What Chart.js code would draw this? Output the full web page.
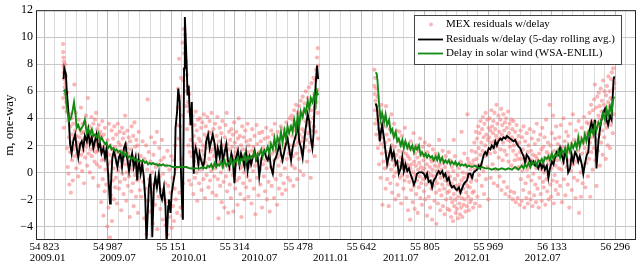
<!DOCTYPE html>
<html>
<head>
<meta charset="utf-8">
<script src="https://cdn.jsdelivr.net/npm/chart.js@4.4.1/dist/chart.umd.min.js"></script>
<style>
  html, body { margin: 0; padding: 0; background: #fff; }
  canvas { display: block; }
</style>
</head>
<body>
<canvas id="chart" width="640" height="268"></canvas>
<script>
// axis ticks (MJD) and labels
var mjdTicks = [54823.4, 54987.1, 55150.7, 55314.4, 55478.1, 55641.8, 55805.4, 55969.1, 56132.8, 56296.4];
var mjdLabels = ['54\u2009823', '54\u2009987', '55\u2009151', '55\u2009314', '55\u2009478', '55\u2009642', '55\u2009805', '55\u2009969', '56\u2009133', '56\u2009296'];
var dateTicks = [54832, 55013, 55197, 55378, 55562, 55743, 55927, 56109];
var dateLabels = ['2009.01', '2009.07', '2010.01', '2010.07', '2011.01', '2011.07', '2012.01', '2012.07'];
var yTicks = [-4, -2, 0, 2, 4, 6, 8, 10, 12];

// MEX residuals w/delay, [MJD, m]
var mexLeft = [
  [54872,9.5],[54872,8.9],[54872,5.5],[54873,8.5],[54873,7.9],[54873,4.8],[54874,8.2],[54874,7.4],[54874,3.3],[54875,7.7],
  [54875,6.9],[54876,7.3],[54876,6.3],[54877,8.0],[54877,5.8],[54878,6.6],[54879,7.1],[54880,5.2],[54881,4.5],[54882,1.8],
  [54883,5.9],[54884,0.4],[54885,3.8],[54886,-0.1],[54887,2.6],[54888,-0.9],[54889,4.3],[54890,1.5],
  [54891,3.4],[54892,-1.5],[54893,2.2],[54894,4.0],[54895,0.9],[54896,2.8],[54897,-0.6],[54898,3.6],[54899,1.7],[54900,2.5],
  [54901,6.5],[54902,1.2],[54903,3.1],[54904,2.0],[54905,4.4],[54906,0.3],[54907,2.7],[54908,1.4],[54909,3.5],[54910,2.2],
  [54911,-0.3],[54912,3.9],[54913,1.8],[54914,2.6],[54915,0.7],[54916,3.2],[54917,2.0],[54918,4.8],[54919,1.3],[54920,2.9],
  [54921,0.1],[54922,3.6],[54923,2.4],[54924,1.6],[54925,3.0],[54926,-0.8],[54927,2.1],[54928,3.7],[54929,1.1],[54930,2.6],
  [54931,4.2],[54932,1.9],[54933,3.3],[54934,0.5],[54935,2.8],[54936,5.5],[54937,2.2],[54938,1.4],[54939,3.4],[54940,2.6],
  [54941,0.0],[54942,3.1],[54943,1.7],[54944,2.5],[54945,4.1],[54946,1.2],[54947,3.0],[54948,2.1],[54949,-0.4],[54950,3.6],
  [54951,1.8],[54952,2.7],[54953,0.8],[54954,3.9],[54955,2.3],[54956,1.5],[54957,4.4],[54958,2.0],[54959,0.6],[54960,3.2],
  [54961,1.6],[54962,2.4],[54963,-1.0],[54964,3.5],[54965,1.9],[54966,2.8],
  [54967,0.4],[54968,3.0],[54969,1.6],[54970,-2.2],[54971,2.6],[54972,0.9],[54973,3.8],[54974,-0.5],[54975,1.9],[54976,-3.2],
  [54977,2.8],[54978,1.0],[54979,-1.4],[54980,3.3],[54981,0.2],[54982,2.1],[54983,-0.9],[54985,1.5],[54986,-4.0],[54987,2.4],
  [54988,0.6],[54989,-2.6],[54990,3.6],[54991,-0.2],[54992,1.3],[54993,-4.8],[54994,2.0],[54995,-1.7],[54996,0.8],[54997,3.1],
  [54998,-3.6],[54999,1.7],[55000,-0.6],[55001,2.5],[55002,0.3],[55003,-2.0],[55004,3.4],[55005,1.2],[55006,-1.1],
  [55007,1.9],[55008,-0.4],[55009,2.8],[55010,0.7],[55011,-2.3],[55012,1.5],[55013,3.6],[55014,0.1],[55015,2.2],[55016,-1.2],
  [55017,1.1],[55018,3.0],[55019,-0.7],[55020,2.0],[55021,0.4],[55022,-2.8],[55023,1.6],[55024,3.3],[55025,-0.1],[55026,2.5],
  [55027,0.9],[55028,-1.6],[55029,2.9],[55030,1.3],[55031,-0.5],[55032,4.2],[55033,0.6],[55034,2.1],[55035,-2.1],[55036,1.8],
  [55037,0.0],[55038,3.1],[55039,-1.0],[55040,1.4],[55041,2.6],[55042,-0.3],[55043,0.8],[55044,-3.3],[55045,2.3],[55046,0.5],
  [55047,1.7],[55048,-1.4],[55049,3.4],[55050,0.2],[55051,1.2],[55052,-0.8],[55053,2.7],[55054,-2.5],[55055,1.0],[55056,3.7],
  [55057,-0.2],[55058,1.9],[55059,0.4],[55060,-1.8],[55061,2.4],[55062,0.9],[55063,-0.6],[55064,2.0],[55065,-3.0],[55066,1.3],
  [55067,3.0],[55068,-0.4],[55069,0.7],[55070,-1.3],
  [55072,1.2],[55074,-1.8],[55076,0.5],[55077,2.3],[55079,-0.7],[55081,-3.4],[55082,1.0],[55084,-1.2],[55086,2.0],[55087,-4.6],
  [55089,0.2],[55090,5.4],[55091,-2.1],[55093,1.5],[55094,-0.5],[55096,-2.9],[55097,0.8],[55099,2.6],[55100,-1.5],[55102,0.0],
  [55103,-3.8],[55105,1.3],[55106,-0.9],[55108,2.2],[55109,-2.4],[55111,0.4],[55112,-1.1],[55114,3.0],[55115,-4.2],[55117,0.6],
  [55118,-1.8],[55120,1.8],[55121,-0.3],[55123,-2.7],[55124,0.9],[55126,-1.3],[55127,2.4],[55129,-3.5],[55130,-0.1],[55132,1.1],
  [55133,-2.0],[55135,-0.8],[55136,-3.9],[55138,0.5],[55139,-2.2],[55141,1.6],[55142,-4.6],[55143,-1.0],[55145,-2.8],[55146,0.2],
  [55148,-3.3],[55149,-1.5],[55151,1.2],[55152,-4.1],[55154,-0.4],[55155,-2.5],[55157,0.9],[55158,-3.6],[55160,-1.2],[55161,2.0],
  [55163,-2.0],[55164,0.3],[55166,-3.0],[55167,3.5],
  [55168,4.8],[55169,6.2],[55170,2.5],[55171,8.4],[55172,-1.5],[55173,5.6],[55174,3.4],[55175,-2.6],[55176,7.0],[55177,1.0],
  [55178,-3.2],[55179,4.2],[55180,9.6],[55181,-0.8],[55182,6.8],[55183,10.6],[55184,8.8],[55185,7.6],[55186,10.2],[55187,9.2],
  [55188,6.0],[55189,8.2],[55190,4.9],[55191,7.2],[55192,3.2],[55193,6.4],[55194,5.2],[55195,2.0],[55196,4.5],[55197,-0.6],
  [55198,5.8],[55199,1.5],[55200,3.6],
  [55201,2.4],[55202,-0.9],[55203,3.8],[55204,1.2],[55205,0.3],[55206,4.2],[55207,1.9],[55208,-1.6],[55209,2.7],[55210,0.8],
  [55211,3.5],[55212,-0.4],[55213,2.1],[55214,4.5],[55215,1.4],[55216,0.0],[55217,3.1],[55218,-2.1],[55219,1.7],[55220,3.9],
  [55221,0.6],[55222,2.5],[55223,-0.8],[55224,1.1],[55225,4.0],[55226,2.3],[55227,0.2],[55228,3.3],[55229,-1.3],[55230,1.6],
  [55231,3.7],[55232,0.9],[55233,2.0],[55234,-0.5],[55235,4.3],[55236,1.3],[55237,2.8],[55238,-1.9],[55239,0.7],[55240,3.4],
  [55241,1.8],[55242,-0.2],[55243,2.6],[55244,4.1],[55245,0.4],[55246,2.2],[55247,-1.1],[55248,3.0],[55249,1.0],[55250,3.8],
  [55251,-0.6],[55252,1.5],[55253,2.9],[55254,0.1],[55255,4.4],[55256,1.7],[55257,-1.5],[55258,2.4],[55259,0.5],[55260,3.2],
  [55261,1.2],[55262,-0.3],[55263,2.0],
  [55264,3.6],[55265,0.3],[55266,1.8],[55267,-1.7],[55268,2.7],[55269,0.8],[55270,4.1],[55271,-0.5],[55272,1.4],[55273,-3.4],
  [55274,2.3],[55275,0.6],[55276,3.3],[55277,-1.0],[55278,1.9],[55279,0.0],[55280,2.9],[55281,-2.2],[55282,1.1],[55283,3.8],
  [55284,0.4],[55285,2.0],[55286,-0.7],[55287,1.6],[55288,-2.6],[55289,2.6],[55290,0.9],[55291,3.5],[55292,-0.3],[55293,1.3],
  [55294,4.4],[55295,-1.4],[55296,2.1],[55297,0.5],[55298,-3.0],[55299,1.7],[55300,3.0],[55301,0.2],[55302,-0.9],[55303,2.4],
  [55304,1.0],[55305,-1.9],[55306,3.2],[55307,0.7],[55308,1.9],[55309,-0.2],[55310,2.8],[55311,-2.9],[55312,1.2],[55313,3.7],
  [55314,0.1],[55315,2.2],[55316,-1.2],[55317,1.5],[55318,0.6],[55319,3.0],[55320,-0.6],[55321,1.8],[55322,-2.4],[55323,2.5],
  [55324,0.8],[55325,4.0],[55326,-0.4],[55327,1.4],[55328,2.7],[55329,-1.6],[55330,0.3],[55331,2.0],[55332,-3.3],[55333,1.1],
  [55334,3.4],[55335,0.5],[55336,1.7],[55337,-0.8],[55338,2.6],[55339,0.0],[55340,-2.0],[55341,1.3],[55342,3.1],[55343,0.6],
  [55344,-1.1],[55345,2.3],[55346,0.9],[55347,-0.3],[55348,3.6],[55349,1.5],[55350,-1.8],[55351,2.0],[55352,0.4],[55353,1.2],
  [55354,-0.6],[55355,2.4],[55357,0.7],[55358,-2.3],[55359,1.6],[55360,3.2],[55362,0.1],[55363,1.9],[55364,-1.2],[55366,2.7],
  [55367,0.5],[55368,-3.1],[55369,1.3],[55371,3.5],[55372,-0.4],[55373,2.1],[55374,0.8],[55376,-1.7],[55377,1.5],[55378,2.9],
  [55380,0.2],[55381,-0.9],[55382,2.3],[55384,1.0],[55385,-2.6],[55386,3.0],[55388,0.6],[55389,1.8],[55390,-0.3],[55392,2.5],
  [55393,-1.4],[55394,0.9],[55396,3.3],[55397,0.3],[55398,-2.0],[55400,1.7],[55401,2.6],[55402,-0.7],[55404,1.2],[55405,-2.9],
  [55406,2.2],[55408,0.4],[55409,3.1],[55410,-1.0],[55412,1.4],[55413,0.0],[55414,2.8],[55416,-1.9],[55417,0.9],[55418,3.6],
  [55420,1.6],[55421,-0.5],[55422,2.4],[55424,-2.4],[55425,1.1],[55426,3.0],[55428,0.5],[55429,-1.2],[55430,2.0],[55432,1.3],
  [55433,-0.2],[55434,3.4],[55436,0.8],[55437,-1.6],[55438,2.6],[55440,1.8],[55441,-0.8],[55442,3.2],[55444,0.3],[55445,2.1],
  [55446,-1.3],[55448,3.7],[55449,1.0],[55450,2.5],[55452,-0.4],[55453,3.0],[55454,1.4],[55456,4.0],
  [55457,2.0],[55458,-0.6],[55459,3.4],[55460,1.6],[55461,4.2],[55462,0.5],[55463,2.7],[55464,3.9],[55465,1.2],[55466,-1.0],
  [55467,3.1],[55468,4.6],[55469,2.0],[55470,0.3],[55471,3.7],[55472,2.5],[55473,5.0],[55474,1.4],[55475,3.3],[55476,-0.5],
  [55477,4.4],[55478,2.2],[55479,3.6],[55480,1.0],[55481,4.9],[55482,2.8],[55483,0.1],[55484,3.9],[55485,5.3],[55486,2.3],
  [55487,4.1],[55488,1.5],[55489,3.2],[55490,5.6],[55491,2.6],[55492,-0.2],[55493,4.5],[55494,3.0],[55495,5.1],[55496,1.9],
  [55497,3.8],[55498,6.0],[55499,2.4],[55500,4.7],[55501,0.8],[55502,3.5],[55503,5.5],[55504,2.9],[55505,4.2],[55506,6.3],
  [55507,1.6],[55508,3.7],[55509,5.0],[55510,2.2],[55511,-0.4],[55512,4.6],[55513,6.6],[55514,3.1],[55515,5.3],[55516,2.0],
  [55517,4.0],[55518,7.0],[55519,3.4],[55520,5.8],[55521,1.2],[55522,4.8],[55523,6.8],[55524,3.0],[55525,7.6],[55526,5.2],
  [55527,8.5],[55528,6.1],[55529,9.2],[55529,4.4],[55530,7.9],[55530,2.5]
];
var mexRight = [
  [55675,7.6],[55675,6.4],[55676,5.8],[55676,4.6],[55677,7.0],[55677,3.6],[55678,5.3],[55679,6.2],[55680,2.8],[55681,4.9],
  [55682,3.9],[55683,5.6],[55684,1.8],[55685,4.2],[55686,3.2],[55687,0.6],[55688,4.5],[55689,2.5],[55690,3.6],[55691,-0.4],
  [55692,2.1],[55693,5.0],[55694,1.4],[55695,3.0],[55696,-2.4],[55697,2.6],[55698,0.8],[55699,4.1],[55700,1.9],
  [55701,3.4],[55702,0.3],[55703,2.2],[55704,-1.2],[55705,4.9],[55706,1.5],[55707,2.8],[55708,-0.5],[55709,1.0],[55710,3.7],
  [55711,0.6],[55712,-2.5],[55713,2.4],[55714,1.2],[55715,3.2],[55716,-0.8],[55717,1.8],[55718,0.2],[55719,4.3],[55720,2.0],
  [55721,-1.5],[55722,0.9],[55723,2.9],[55724,1.4],[55725,-0.3],[55726,3.6],[55727,0.5],[55728,1.9],[55729,-2.0],[55730,2.6],
  [55731,0.0],[55732,1.3],[55733,3.1],[55734,-0.9],[55735,0.8],[55736,2.3],[55737,-1.7],[55738,1.6],[55739,0.4],[55740,3.0],
  [55741,-0.4],[55742,1.1],[55743,2.0],[55744,-2.3],[55745,0.7],[55746,2.7],[55747,-0.2],[55748,1.5],[55749,0.3],[55750,-1.2],
  [55751,2.2],[55752,0.9],[55753,-0.6],[55754,3.3],[55755,0.1],[55756,1.4],[55757,-1.9],[55758,0.6],[55759,2.1],[55760,-0.3],
  [55761,1.2],[55762,-2.8],[55763,0.5],[55764,1.8],
  [55765,-0.7],[55766,1.0],[55767,-3.5],[55768,0.3],[55769,2.3],[55770,-1.3],[55771,0.6],[55772,-0.4],[55773,1.7],[55774,-2.2],
  [55775,0.0],[55776,2.9],[55777,-1.0],[55778,0.8],[55779,-2.7],[55780,1.4],[55781,-0.2],[55782,0.5],[55783,-1.6],[55784,2.0],
  [55785,-0.6],[55786,1.1],[55787,-3.0],[55788,0.2],[55789,1.6],[55790,-1.1],[55791,0.7],[55792,-0.3],[55793,2.5],[55794,-1.9],
  [55795,0.4],[55796,-0.8],[55797,1.3],[55798,-2.4],[55799,0.1],[55800,1.9],[55801,-0.5],[55802,0.9],[55803,-1.4],[55804,0.3],
  [55805,2.2],[55806,-2.0],[55807,-0.1],[55808,1.2],[55809,-0.9],[55810,0.6],[55811,-3.2],[55812,1.5],[55813,-0.4],[55814,0.0],
  [55815,-1.8],[55816,2.0],[55817,-0.7],[55818,0.4],[55819,-2.6],[55820,1.0],[55821,-0.2],[55822,-1.2],[55823,0.8],[55824,-3.5],
  [55825,0.2],[55826,1.7],[55827,-1.0],[55828,-0.3],[55829,0.9],[55830,-2.1],[55831,0.5],[55832,-0.6],[55833,1.4],[55834,-1.5],
  [55835,-3.8],[55836,0.1],[55837,-0.8],[55838,1.1],[55839,-2.3],[55840,0.4],[55841,-0.1],[55842,2.4],[55843,-1.3],[55844,0.6],
  [55845,-2.8],[55846,-0.4],[55847,1.0],[55848,-1.7],[55849,0.2],[55850,-0.9],[55851,1.6],[55852,-2.5],[55853,-0.2],[55854,0.7],
  [55855,-1.2],[55856,-3.1],[55857,0.4],[55858,-0.6],[55859,1.2],[55860,-2.0],[55861,-0.3],[55862,0.8],[55863,-1.5],[55864,-2.7],
  [55865,0.0],[55866,-0.9],[55867,1.5],
  [55868,-1.4],[55869,-2.8],[55870,-0.3],[55871,0.9],[55872,-1.9],[55873,-3.3],[55874,-0.8],[55875,0.4],[55876,-2.2],[55877,-1.1],
  [55878,-3.6],[55879,0.1],[55880,-1.6],[55880,2.4],[55881,-2.5],[55882,-0.5],[55883,1.2],[55884,-2.0],[55885,-3.0],[55886,-1.0],
  [55887,0.6],[55888,-2.7],[55889,-1.3],[55890,-0.2],[55891,-3.4],[55892,-1.8],[55893,0.3],[55894,-2.3],[55895,-0.9],[55896,-3.1],
  [55897,-1.5],[55898,0.8],[55899,-2.6],[55900,-0.6],[55900,3.0],[55901,-1.9],[55902,-3.3],[55903,0.0],[55904,-1.2],[55905,-2.4],
  [55906,-0.4],[55907,1.4],[55908,-2.0],[55909,-0.8],[55910,-2.9],[55911,0.5],[55912,-1.5],[55913,-0.1],[55914,-2.5],[55915,-1.0],
  [55915,4.3],[55916,1.0],[55917,-1.8],[55918,-0.3],[55919,-2.8],[55920,0.7],[55921,-1.1],[55922,-2.2],[55923,0.2],[55924,-0.7],
  [55925,-2.0],[55926,1.6],[55927,-0.4],[55928,-1.5],[55929,0.6],[55930,-2.6],
  [55931,0.9],[55932,-1.4],[55933,2.2],[55934,0.2],[55935,-2.3],[55936,1.5],[55937,3.0],[55938,-0.6],[55939,1.0],[55940,2.5],
  [55941,-1.8],[55942,0.5],[55943,3.4],[55944,1.8],[55945,-0.2],[55946,2.9],[55947,-2.5],[55948,1.3],[55949,3.8],[55950,0.6],
  [55951,2.2],[55952,-1.0],[55953,3.2],[55954,1.6],[55955,4.1],[55956,0.1],[55957,2.6],[55958,-1.6],[55959,3.6],[55960,1.2],
  [55961,2.0],[55962,4.4],[55963,-0.5],[55964,2.8],[55965,1.5],[55966,3.9],[55967,0.4],[55968,2.4],[55969,-2.0],[55970,3.3],
  [55971,2.6],[55972,4.0],[55973,1.4],[55974,3.1],[55975,-0.4],[55976,2.2],[55977,4.6],[55978,1.8],[55979,3.4],[55980,0.6],
  [55981,2.9],[55982,3.8],[55983,-0.8],[55984,2.3],[55985,4.4],[55986,1.5],[55987,3.2],[55988,0.2],[55989,2.7],[55990,5.0],
  [55991,1.9],[55992,3.6],[55993,-1.0],[55994,2.4],[55995,4.2],[55996,1.1],[55997,3.0],[55998,-0.3],[55999,2.5],[56000,3.9],
  [56001,1.7],[56002,4.7],[56003,-1.3],[56004,2.8],[56005,3.5],[56006,0.9],[56007,2.2],[56008,4.3],[56009,-0.7],[56010,3.1],
  [56011,1.6],[56012,3.7],[56013,-1.6],[56014,2.6],[56015,4.0],[56016,1.3],[56017,3.3],[56018,-1.1],[56019,2.4],[56020,4.5],
  [56021,0.8],[56022,2.9],[56023,-1.8],[56024,3.6],[56025,1.9],[56026,2.3],[56027,-1.4],[56028,3.9],[56029,0.5],[56030,2.6],
  [56031,3.2],[56032,-2.0],[56033,1.6],[56034,3.8],[56035,2.0],[56036,-1.5],[56037,0.9],[56038,3.0],[56039,2.4],[56040,-2.2],
  [56041,1.3],[56042,3.5],[56043,0.3],[56044,2.1],[56045,-1.9],[56046,1.0],[56047,2.7],
  [56048,0.4],[56049,2.2],[56050,-2.4],[56051,1.5],[56052,3.1],[56053,-0.5],[56054,1.0],[56055,-2.1],[56056,2.6],[56057,0.1],
  [56058,1.7],[56059,-1.3],[56060,3.4],[56061,0.6],[56062,-2.6],[56063,1.2],[56064,2.3],[56065,-0.8],[56066,0.8],[56067,-1.9],
  [56068,2.9],[56069,0.2],[56070,1.5],[56071,-2.3],[56072,-0.3],[56073,2.0],[56074,1.0],[56075,-1.5],[56076,3.2],[56077,0.4],
  [56078,-2.0],[56079,1.6],[56080,-0.6],[56081,2.5],[56082,0.9],[56083,-2.5],[56084,1.3],[56085,-0.1],[56086,3.0],[56087,-1.7],
  [56088,0.7],[56089,2.1],[56090,-0.9],[56091,1.2],[56092,-2.2],[56093,0.3],[56094,3.6],[56095,1.0],[56096,-1.2],[56097,0.5],
  [56098,2.4],[56099,-2.6],[56100,1.4],[56101,-0.4],[56102,0.8],[56103,2.8],[56104,-1.6],[56105,0.2],[56106,1.7],[56107,-2.1],
  [56108,3.3],[56109,0.6],[56110,-0.7],[56111,1.9],[56112,-1.1],[56113,0.0],[56114,2.6],[56115,1.1],[56116,-2.4],[56117,0.4],
  [56118,3.9],[56119,-0.5],[56120,1.5],[56121,-1.4],[56122,0.9],[56123,2.2],[56124,-0.2],[56125,-2.0],[56126,1.3],[56127,5.0],
  [56128,0.6],[56129,-0.9],[56130,2.0],[56131,-1.8],[56132,0.3],[56133,2.9],[56134,1.0],[56135,-0.6],[56136,4.2],[56137,0.8],
  [56138,-2.3],[56139,1.6],[56140,-0.2],[56141,2.5],[56142,0.5],[56143,-1.3],[56144,3.4],[56145,1.2],[56146,-0.7],[56147,0.9],
  [56148,2.1],[56149,-1.6],[56150,1.7],
  [56151,0.3],[56152,2.6],[56154,-1.0],[56155,1.4],[56156,3.5],[56158,0.2],[56159,-2.2],[56160,1.9],[56162,0.7],[56163,4.0],
  [56164,-0.5],[56166,2.3],[56167,1.1],[56168,-1.7],[56170,3.0],[56171,0.4],[56172,1.8],[56174,-0.9],[56175,2.7],[56176,0.9],
  [56178,-2.6],[56179,1.5],[56180,3.6],[56182,0.1],[56183,2.1],[56184,-1.3],[56186,1.0],[56187,4.3],[56188,0.6],[56190,-0.4],
  [56191,2.4],[56192,1.3],[56194,-1.9],[56195,3.1],[56196,0.8],[56198,2.0],[56199,-0.6],[56200,1.6],[56202,3.8],[56203,-3.0],
  [56204,1.1],[56206,2.6],[56207,0.0],[56208,-1.8],[56210,3.3],[56211,1.4],[56212,-0.8],[56214,2.2],[56215,0.5],[56216,4.1],
  [56218,1.8],[56219,-1.1],[56220,2.9],[56222,0.7],[56223,3.7],[56224,1.5],[56226,-0.3],[56227,2.4],
  [56228,3.6],[56229,1.0],[56230,4.4],[56231,2.2],[56232,-1.8],[56233,3.0],[56234,5.0],[56235,1.5],[56236,3.8],[56237,2.6],
  [56238,0.2],[56239,4.6],[56240,3.2],[56241,1.8],[56242,5.4],[56243,2.9],[56244,6.5],[56245,0.9],[56246,3.7],[56247,4.8],
  [56248,-1.0],[56249,2.4],[56250,5.6],[56251,3.4],[56252,1.6],[56253,4.2],[56254,5.9],[56255,2.8],[56256,4.9],[56257,0.5],
  [56258,3.9],[56259,6.2],[56260,2.2],[56261,4.5],[56262,5.3],[56263,3.1],[56264,1.3],[56265,6.8],[56266,4.0],[56267,5.0],
  [56268,2.6],[56269,6.0],[56270,3.6],[56271,4.7],[56272,1.0],[56273,5.7],[56274,3.3],[56275,6.4],[56276,4.4],[56277,2.0],
  [56278,5.2],[56279,7.1],[56280,3.8],[56281,4.9],[56282,6.0],[56283,1.8],[56284,5.5],[56285,3.5],[56286,6.9],[56287,4.6],
  [56288,7.4],[56289,5.4],[56290,2.9],[56291,7.7],[56292,6.2],[56292,8.3],[56293,4.3],[56293,9.0],[56294,6.6]
];

// Residuals w/delay, 5-day rolling average
var avgLeft = [
  [54873,6.9],[54875,7.7],[54879,7.3],[54881,6.2],[54886,4.3],[54890,2.1],[54894,1.4],[54898,2.3],[54903,2.8],[54907,1.8],
  [54911,1.1],[54916,2.1],[54920,2.3],[54924,1.8],[54928,2.7],[54933,2.3],[54937,3.1],[54941,2.1],[54946,2.6],[54950,1.8],
  [54954,2.3],[54958,2.8],[54963,1.8],[54967,2.2],[54971,1.4],[54976,1.8],[54980,1.1],[54984,1.8],[54988,-0.1],[54993,-2.3],
  [54995,-1.1],[54999,1.1],[55003,1.6],[55007,1.1],[55012,0.4],[55016,1.1],[55020,1.4],[55024,0.4],[55029,1.8],[55033,2.1],
  [55037,1.1],[55042,0.1],[55046,0.9],[55050,1.4],[55054,0.4],[55059,1.1],[55063,-0.6],[55067,0.9],[55072,-0.1],[55076,0.6],
  [55080,-0.3],[55084,-2.0],[55087,-5.2],[55090,-3.2],[55093,-1.1],[55097,-0.1],[55100,-2.0],[55102,-4.8],[55106,-1.1],[55110,-0.3],
  [55114,-1.1],[55119,-0.1],[55123,-1.6],[55127,-2.0],[55132,-1.1],[55136,-2.5],[55139,-5.4],[55143,-2.5],[55145,-2.0],[55149,-3.0],
  [55152,-1.6],[55156,-0.8],[55160,-0.1],[55162,3.3],[55166,4.5],[55169,6.2],[55173,5.2],[55175,0.9],[55179,-2.5],[55181,-3.5],
  [55184,7.7],[55186,11.5],[55188,10.1],[55191,7.7],[55193,5.7],[55196,6.4],[55198,4.8],[55201,3.5],[55204,5.2],[55206,2.3],
  [55209,-0.1],[55211,1.4],[55214,1.8],[55217,1.4],[55221,0.6],[55224,1.4],[55228,0.9],[55233,0.4],[55237,0.9],[55241,2.3],
  [55246,2.8],[55250,1.8],[55254,2.3],[55258,2.8],[55263,2.1],[55267,0.9],[55271,1.8],[55276,1.1],[55280,2.1],[55284,0.9],
  [55288,1.4],[55293,2.1],[55297,0.9],[55301,0.4],[55306,1.4],[55310,0.9],[55314,-0.8],[55318,1.1],[55323,1.6],[55327,0.6],
  [55331,1.4],[55336,0.9],[55340,0.4],[55344,1.4],[55348,0.1],[55353,1.1],[55357,0.6],[55361,1.1],[55366,1.6],[55370,0.9],
  [55374,1.1],[55378,-0.3],[55383,0.9],[55387,1.4],[55391,1.6],[55396,1.1],[55400,0.9],[55404,1.4],[55408,0.4],[55413,-0.1],
  [55417,0.9],[55421,1.1],[55426,1.6],[55430,2.1],[55434,1.4],[55438,0.9],[55443,1.6],[55447,2.1],[55451,2.5],[55456,1.6],
  [55460,0.9],[55464,1.8],[55468,2.3],[55473,2.8],[55477,3.8],[55481,2.3],[55486,1.8],[55490,1.1],[55494,2.3],[55498,3.3],
  [55503,4.3],[55507,3.8],[55511,2.5],[55515,1.8],[55518,2.8],[55521,5.2],[55524,6.7],[55527,7.9],[55530,6.9]
];
var avgRight = [
  [55678,5.1],[55681,4.9],[55683,4.3],[55687,3.0],[55689,2.3],[55692,3.0],[55695,3.5],[55700,2.5],[55704,1.5],[55708,0.6],
  [55713,1.3],[55717,1.8],[55721,1.1],[55725,1.5],[55730,0.6],[55734,0.8],[55738,-0.1],[55743,0.3],[55747,1.1],[55751,0.1],
  [55755,0.6],[55760,0.1],[55764,0.3],[55768,-0.1],[55773,-0.5],[55777,-0.9],[55781,-0.6],[55785,-0.1],[55790,0.0],[55794,0.0],
  [55798,0.0],[55803,-0.1],[55807,-0.4],[55811,-0.1],[55815,-0.7],[55820,-0.6],[55824,-1.1],[55828,-0.6],[55833,-0.4],[55837,-0.1],
  [55841,0.1],[55845,-0.1],[55850,0.1],[55854,-0.3],[55858,-0.1],[55863,-0.6],[55867,-0.4],[55871,-0.9],[55875,-1.1],[55880,-1.0],
  [55884,-1.2],[55888,-1.3],[55893,-1.1],[55897,-1.5],[55901,-1.2],[55905,-0.9],[55910,-0.7],[55914,-0.6],[55918,-0.1],[55923,-0.1],
  [55927,-0.4],[55931,0.0],[55935,0.1],[55940,0.2],[55944,0.5],[55948,0.3],[55953,0.8],[55957,1.3],[55961,1.5],[55965,1.3],
  [55970,1.8],[55974,1.7],[55978,2.0],[55983,1.8],[55987,2.3],[55991,2.0],[55995,2.3],[56000,2.5],[56004,2.4],[56008,2.6],
  [56013,2.5],[56017,2.7],[56021,2.6],[56025,2.5],[56030,2.4],[56034,2.3],[56038,2.4],[56043,2.1],[56047,1.9],[56051,1.8],
  [56055,1.5],[56060,1.2],[56064,0.7],[56068,1.3],[56073,1.1],[56077,0.8],[56081,0.6],[56085,0.8],[56090,0.5],[56094,0.6],
  [56098,0.3],[56103,0.7],[56107,0.3],[56111,0.6],[56115,0.2],[56120,0.5],[56124,-0.4],[56128,0.3],[56133,0.8],[56137,0.6],
  [56141,1.1],[56145,1.5],[56150,1.3],[56154,1.8],[56158,1.3],[56163,0.8],[56167,1.5],[56171,1.2],[56175,0.0],[56180,0.3],
  [56184,1.3],[56188,0.8],[56193,1.5],[56197,1.3],[56201,0.8],[56205,1.2],[56210,0.6],[56214,-0.1],[56218,0.6],[56223,1.3],
  [56227,1.5],[56231,3.2],[56235,3.7],[56240,3.2],[56244,3.9],[56248,0.3],[56253,2.3],[56257,3.2],[56261,3.9],[56265,4.4],
  [56270,4.7],[56274,3.9],[56278,3.5],[56283,4.2],[56287,3.9],[56289,5.1],[56292,6.8],[56294,7.1]
];

// Delay in solar wind (WSA-ENLIL)
var windLeft = [
  [54873,6.0],[54877,6.1],[54880,5.2],[54883,4.5],[54887,3.8],[54892,4.0],[54896,4.5],[54900,5.2],[54904,4.3],[54907,3.3],
  [54911,3.5],[54916,3.1],[54920,3.3],[54924,3.5],[54928,3.9],[54933,2.9],[54937,3.2],[54941,2.8],[54946,3.2],[54950,2.7],
  [54954,2.8],[54958,2.6],[54963,2.9],[54967,2.3],[54971,2.6],[54976,2.3],[54980,2.1],[54984,2.2],[54988,1.8],[54993,2.0],
  [54997,1.7],[55001,1.8],[55006,1.6],[55010,1.7],[55014,1.5],[55018,1.6],[55023,1.4],[55027,1.5],[55031,1.2],[55036,1.4],
  [55040,1.1],[55044,1.2],[55048,1.0],[55053,1.1],[55057,0.9],[55061,1.0],[55066,0.8],[55070,0.9],[55074,0.8],[55078,0.9],
  [55083,0.7],[55087,0.8],[55091,0.6],[55096,0.7],[55100,0.6],[55104,0.7],[55108,0.6],[55113,0.6],[55117,0.5],[55121,0.6],
  [55125,0.5],[55130,0.6],[55134,0.5],[55138,0.5],[55147,0.5],[55155,0.4],[55164,0.4],[55173,0.4],[55181,0.4],[55190,0.4],
  [55198,0.3],[55207,0.3],[55215,0.3],[55224,0.3],[55233,0.4],[55241,0.3],[55245,0.5],[55250,0.4],[55254,0.6],[55258,0.3],
  [55263,0.7],[55267,0.4],[55271,0.6],[55275,0.5],[55280,0.8],[55284,0.4],[55288,0.9],[55293,0.5],[55297,0.7],[55301,0.6],
  [55305,1.0],[55310,0.5],[55314,0.9],[55318,0.8],[55323,1.1],[55327,0.6],[55331,1.0],[55335,0.9],[55340,1.3],[55344,0.8],
  [55348,1.2],[55353,1.0],[55357,1.2],[55361,1.1],[55365,1.5],[55370,1.0],[55374,1.4],[55378,1.3],[55383,1.7],[55387,1.2],
  [55391,1.6],[55395,1.5],[55400,1.9],[55404,1.4],[55408,2.1],[55413,1.7],[55417,2.5],[55421,1.8],[55425,2.6],[55430,2.2],
  [55434,3.0],[55438,2.2],[55443,3.1],[55447,2.5],[55451,3.4],[55455,2.9],[55460,3.4],[55464,3.0],[55468,3.9],[55473,3.1],
  [55477,4.2],[55481,3.4],[55485,4.5],[55490,4.1],[55494,4.7],[55498,4.4],[55503,5.3],[55507,4.7],[55511,5.5],[55515,5.2],
  [55520,5.8],[55524,5.1],[55527,6.0],[55530,5.7]
];
var windRight = [
  [55678,7.4],[55681,7.3],[55683,6.8],[55687,5.1],[55691,3.9],[55695,4.4],[55700,3.7],[55704,4.3],[55708,3.5],[55713,3.9],
  [55717,3.0],[55721,3.2],[55725,2.6],[55730,3.0],[55734,2.3],[55738,2.5],[55743,2.0],[55747,2.4],[55751,1.8],[55755,2.3],
  [55760,1.8],[55764,2.1],[55768,1.7],[55773,2.0],[55777,1.5],[55781,1.9],[55785,1.7],[55790,2.0],[55794,1.3],[55798,1.5],
  [55803,1.2],[55807,1.4],[55811,1.1],[55815,1.3],[55820,1.1],[55824,1.2],[55828,0.9],[55833,1.2],[55837,0.9],[55841,1.3],
  [55845,0.8],[55850,1.1],[55854,0.7],[55858,0.9],[55863,0.7],[55867,0.9],[55871,0.6],[55875,0.8],[55880,0.6],[55884,0.8],
  [55888,0.5],[55893,0.7],[55897,0.5],[55901,0.6],[55905,0.5],[55910,0.6],[55914,0.4],[55918,0.5],[55927,0.4],[55935,0.5],
  [55944,0.3],[55953,0.4],[55961,0.3],[55970,0.3],[55978,0.2],[55987,0.3],[55995,0.2],[56004,0.3],[56013,0.2],[56021,0.3],
  [56030,0.2],[56038,0.4],[56047,0.2],[56055,0.5],[56060,0.3],[56064,0.6],[56068,0.4],[56073,0.7],[56077,0.4],[56081,0.8],
  [56085,0.6],[56090,0.8],[56094,0.5],[56098,0.9],[56103,0.8],[56107,1.0],[56111,0.7],[56115,1.1],[56120,1.0],[56124,1.2],
  [56128,0.9],[56133,1.4],[56137,1.0],[56141,1.3],[56145,1.2],[56150,1.6],[56154,1.1],[56158,1.7],[56163,1.4],[56167,1.8],
  [56171,1.3],[56175,2.0],[56180,1.5],[56184,2.1],[56188,1.8],[56193,2.2],[56197,1.8],[56201,2.6],[56205,1.9],[56210,2.5],
  [56214,2.2],[56218,2.8],[56222,2.3],[56227,3.0],[56231,2.7],[56235,3.2],[56240,2.8],[56244,3.5],[56248,3.1],[56253,3.7],
  [56257,3.5],[56261,3.9],[56265,4.4],[56270,3.9],[56274,4.7],[56278,4.2],[56283,4.9],[56287,4.4],[56291,5.4],[56294,5.6]
];

var xMin = 54802;
var xMax = 56350;
var gridStep = (mjdTicks[9] - mjdTicks[0]) / 54;  // 6 grid lines between labelled ticks
var gridDays = [];
for (var g = mjdTicks[0]; g <= xMax; g += gridStep) gridDays.push(g);

var serif = '"Liberation Serif", "DejaVu Serif", serif';
Chart.defaults.font.family = serif;
Chart.defaults.font.size = 11;
Chart.defaults.color = '#000';

var dotColor = 'rgba(246, 110, 110, 0.5)';
var avgColor = '#000000';
var windColor = '#138a13';

var framePlugin = {
    id: 'frameAndLegend',
    afterDraw: function(chart) {
        var ctx = chart.ctx;
        var a = chart.chartArea;
        ctx.save();
        ctx.strokeStyle = '#262626';
        ctx.lineWidth = 1;
        ctx.strokeRect(a.left + 0.5, a.top + 0.5, a.right - a.left - 1, a.bottom - a.top - 1);

        // legend box
        var lx = 414, ly = 15, lw = 207, lh = 49;
        ctx.fillStyle = '#ffffff';
        ctx.fillRect(lx, ly, lw, lh);
        ctx.strokeStyle = '#444';
        ctx.strokeRect(lx + 0.5, ly + 0.5, lw, lh);

        ctx.fillStyle = dotColor;
        ctx.beginPath();
        ctx.arc(431, 24.5, 2, 0, Math.PI * 2);
        ctx.fill();

        ctx.lineWidth = 1.8;
        ctx.strokeStyle = avgColor;
        ctx.beginPath(); ctx.moveTo(418, 39.5); ctx.lineTo(443, 39.5); ctx.stroke();
        ctx.strokeStyle = windColor;
        ctx.beginPath(); ctx.moveTo(418, 53.5); ctx.lineTo(443, 53.5); ctx.stroke();

        ctx.fillStyle = '#000';
        ctx.font = '11px ' + serif;
        ctx.textBaseline = 'middle';
        ctx.textAlign = 'left';
        ctx.fillText('MEX residuals w/delay', 446, 24.5);
        ctx.fillText('Residuals w/delay (5-day rolling avg.)', 446, 39.5);
        ctx.fillText('Delay in solar wind (WSA-ENLIL)', 446, 53.5);
        ctx.restore();
    }
};

function lineSet(label, data, color, order) {
    return {
        label: label,
        data: data,
        showLine: true,
        borderColor: color,
        borderWidth: 1.9,
        pointRadius: 0,
        tension: 0,
        order: order
    };
}

var chart = new Chart(document.getElementById('chart'), {
    type: 'scatter',
    data: {
        datasets: [
            {
                label: 'MEX residuals w/delay',
                data: mexLeft.concat(mexRight),
                pointRadius: 2.1,
                pointBorderWidth: 0,
                pointBackgroundColor: dotColor,
                order: 3
            },
            lineSet('Residuals w/delay (5-day rolling avg.)', avgLeft, avgColor, 2),
            lineSet('Residuals w/delay (5-day rolling avg.)', avgRight, avgColor, 2),
            lineSet('Delay in solar wind (WSA-ENLIL)', windLeft, windColor, 1),
            lineSet('Delay in solar wind (WSA-ENLIL)', windRight, windColor, 1)
        ]
    },
    options: {
        responsive: false,
        animation: false,
        devicePixelRatio: 1,
        layout: { padding: { top: 6, right: 2, left: 0, bottom: 0 } },
        plugins: {
            legend: { display: false },
            tooltip: { enabled: false }
        },
        scales: {
            x: {
                type: 'linear',
                position: 'bottom',
                weight: 0,
                min: xMin,
                max: xMax,
                afterBuildTicks: function(scale) {
                    scale.ticks = gridDays.map(function(v) { return { value: v }; });
                },
                afterFit: function(scale) { scale.height = 11; },
                ticks: {
                    autoSkip: false,
                    maxRotation: 0,
                    padding: 1,
                    font: { size: 11, lineHeight: 1.2 },
                    callback: function(value, index) {
                        return index % 6 === 0 ? mjdLabels[index / 6] : '';
                    }
                },
                grid: {
                    drawTicks: false,
                    color: function(ctx) { return ctx.index % 6 === 0 ? '#bdbdbd' : '#dcdcdc'; }
                },
                border: { display: false }
            },
            x2: {
                type: 'linear',
                position: 'bottom',
                weight: 1,
                min: xMin,
                max: xMax,
                afterBuildTicks: function(scale) {
                    scale.ticks = dateTicks.map(function(v) { return { value: v }; });
                },
                afterFit: function(scale) { scale.height = 17; },
                ticks: {
                    autoSkip: false,
                    maxRotation: 0,
                    padding: 1,
                    font: { size: 11, lineHeight: 1.2 },
                    callback: function(value, index) { return dateLabels[index]; }
                },
                grid: { display: false, drawTicks: false },
                border: { display: false }
            },
            y: {
                min: -5,
                max: 12,
                afterBuildTicks: function(scale) {
                    scale.ticks = yTicks.map(function(v) { return { value: v }; });
                },
                afterFit: function(scale) { scale.width = 36; },
                ticks: {
                    padding: 3,
                    font: { size: 12 },
                    callback: function(value) { return String(value).replace('-', '\u2212'); }
                },
                grid: { drawTicks: false, color: '#c8c8c8' },
                border: { display: false },
                title: {
                    display: true,
                    text: 'm, one-way',
                    padding: { top: 2, bottom: 0 },
                    font: { size: 13 }
                }
            }
        }
    },
    plugins: [framePlugin]
});
</script>
</body>
</html>
